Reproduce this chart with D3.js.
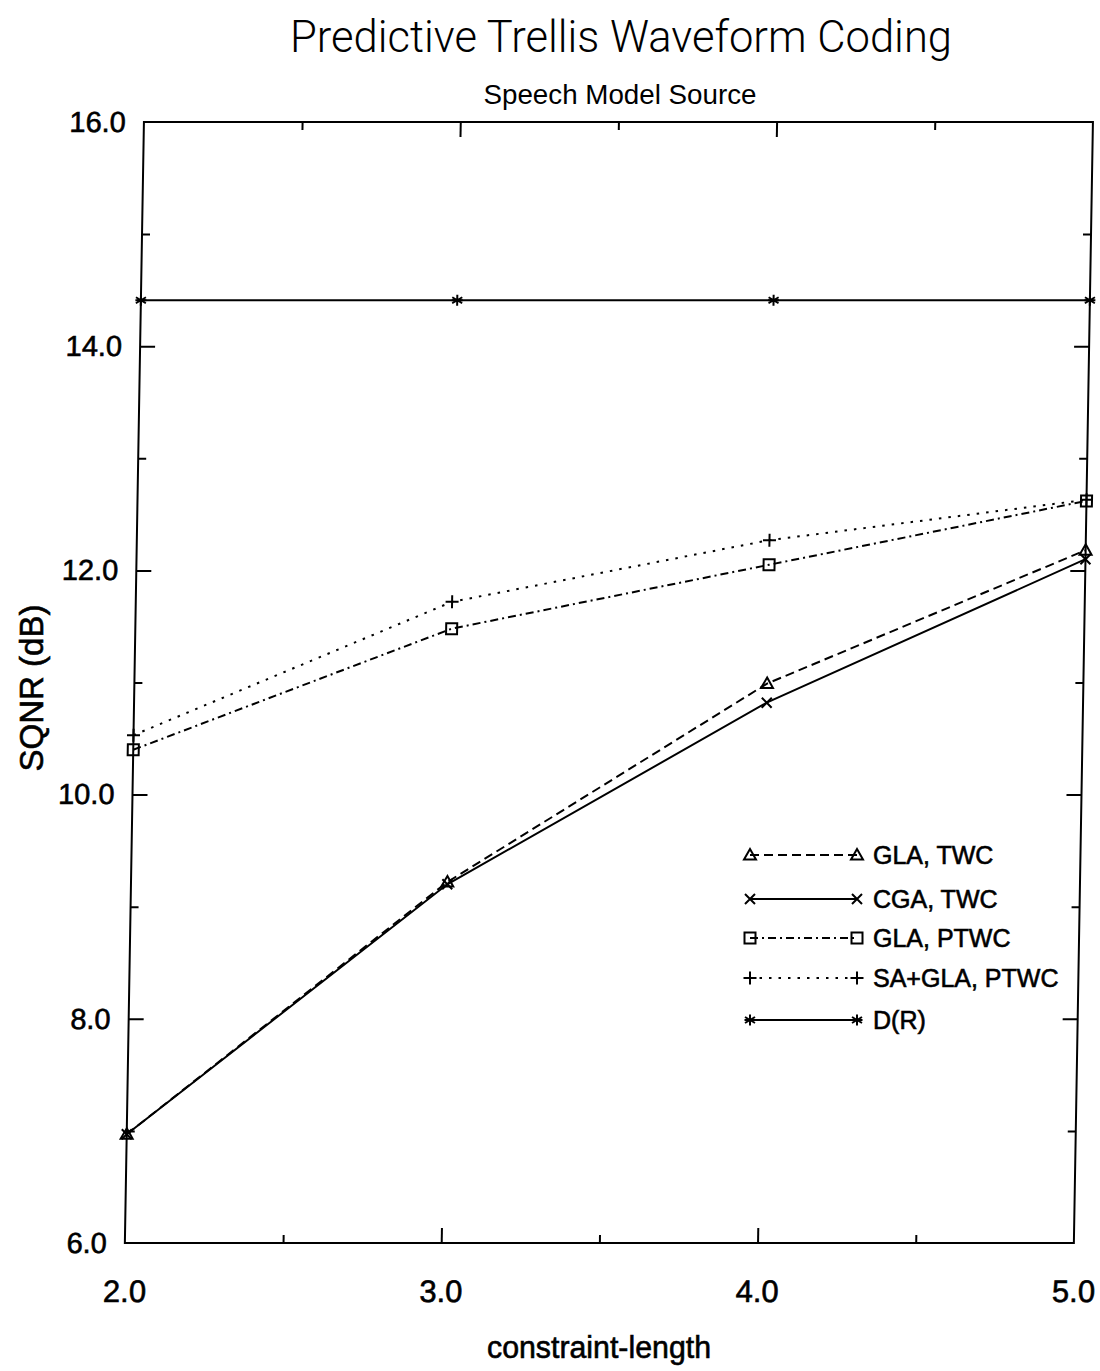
<!DOCTYPE html>
<html>
<head>
<meta charset="utf-8">
<script src="https://cdn.jsdelivr.net/npm/d3@7"></script>
<style>
  body { margin: 0; background: #fff; }
  svg { display: block; font-family: "Liberation Sans", Arial, sans-serif; }
  .heavy { stroke: #000; stroke-width: 0.6; }
</style>
</head>
<body>
<svg id="chart" width="1100" height="1371"></svg>
<script>
'use strict';

// data
var constraintLengths = [2, 3, 4, 5];
var glaTwc = [6.97, 9.22, 10.99, 12.18];
var cgaTwc = [6.97, 9.20, 10.82, 12.10];
var glaPtwc = [10.40, 11.48, 12.05, 12.62];
var saGlaPtwc = [10.53, 11.72, 12.27, 12.63];
var distortionRate = [14.41, 14.41, 14.41, 14.41];

var seriesNames = ['GLA, TWC', 'CGA, TWC', 'GLA, PTWC', 'SA+GLA, PTWC', 'D(R)'];

var xLabelTicks = [2, 3, 4, 5];
var xMajorTicks = [3, 4];
var xMinorTicks = [2.5, 3.5, 4.5];
var yLabelTicks = [6, 8, 10, 12, 14, 16];
var yMajorTicks = [8, 10, 12, 14];
var yMinorTicks = [7, 9, 11, 13, 15];

var LEFT = 146, RIGHT = 1095, TOP = 122, BOTTOM = 1243;
var SKEW = -0.974; // the scan is sheared by about a degree
var MAJOR = 15, MINOR = 8;

var markerPaths = {
    triangle: 'M0,-6L6,4.5L-6,4.5Z',
    times: 'M-5,-5L5,5M-5,5L5,-5',
    square: 'M-5.5,-5.5H5.5V5.5H-5.5Z',
    plus: 'M-6.5,0H6.5M0,-6.5V6.5',
    asterisk: 'M0,-5.5V5.5M-5,-3L5,3M-5,3L5,-3M-5.5,0H5.5'
};

var series = [
    { name: seriesNames[0], values: glaTwc, dash: '9,5', marker: 'triangle' },
    { name: seriesNames[1], values: cgaTwc, dash: null, marker: 'times' },
    { name: seriesNames[2], values: glaPtwc, dash: '8,4,2,4', marker: 'square' },
    { name: seriesNames[3], values: saGlaPtwc, dash: '2.5,7', marker: 'plus' },
    { name: seriesNames[4], values: distortionRate, dash: null, marker: 'asterisk' }
];

var svg = d3.select('#chart');

svg.append('text')
    .attr('x', 621).attr('y', 52)
    .attr('text-anchor', 'middle')
    .attr('font-size', 44)
    .attr('font-family', 'Roboto, "Liberation Sans", sans-serif')
    .attr('font-weight', 300)
    .attr('textLength', 662).attr('lengthAdjust', 'spacingAndGlyphs')
    .text('Predictive Trellis Waveform Coding');

svg.append('text')
    .attr('x', 620).attr('y', 104)
    .attr('text-anchor', 'middle')
    .attr('font-size', 28)
    .attr('textLength', 273).attr('lengthAdjust', 'spacingAndGlyphs')
    .text('Speech Model Source');

svg.append('text')
    .attr('class', 'heavy')
    .attr('transform', 'translate(43,688) rotate(-90)')
    .attr('text-anchor', 'middle')
    .attr('font-size', 33)
    .text('SQNR (dB)');

svg.append('text')
    .attr('class', 'heavy')
    .attr('x', 599).attr('y', 1358)
    .attr('text-anchor', 'middle')
    .attr('font-size', 31)
    .attr('textLength', 224).attr('lengthAdjust', 'spacingAndGlyphs')
    .text('constraint-length');

var x = d3.scaleLinear().domain([2, 5]).range([LEFT, RIGHT]);
var y = d3.scaleLinear().domain([6, 16]).range([BOTTOM, TOP]);

var plot = svg.append('g').attr('transform', 'skewX(' + SKEW + ')');

function tickAxis(axisFn, scale, values, size, at) {
    var g = plot.append('g')
        .attr('transform', at)
        .call(axisFn(scale).tickValues(values).tickSize(size).tickFormat(''));
    g.select('.domain').remove();
    g.selectAll('line').attr('stroke', '#000').attr('stroke-width', 2);
    return g;
}

// inward ticks on all four sides
tickAxis(d3.axisTop, x, xMajorTicks, MAJOR, 'translate(0,' + BOTTOM + ')');
tickAxis(d3.axisTop, x, xMinorTicks, MINOR, 'translate(0,' + BOTTOM + ')');
tickAxis(d3.axisBottom, x, xMajorTicks, MAJOR, 'translate(0,' + TOP + ')');
tickAxis(d3.axisBottom, x, xMinorTicks, MINOR, 'translate(0,' + TOP + ')');
tickAxis(d3.axisRight, y, yMajorTicks, MAJOR, 'translate(' + LEFT + ',0)');
tickAxis(d3.axisRight, y, yMinorTicks, MINOR, 'translate(' + LEFT + ',0)');
tickAxis(d3.axisLeft, y, yMajorTicks, MAJOR, 'translate(' + RIGHT + ',0)');
tickAxis(d3.axisLeft, y, yMinorTicks, MINOR, 'translate(' + RIGHT + ',0)');

var xLabels = plot.append('g')
    .attr('transform', 'translate(0,' + BOTTOM + ')')
    .call(d3.axisBottom(x).tickValues(xLabelTicks).tickSize(0).tickPadding(37).tickFormat(d3.format('.1f')));
xLabels.select('.domain').remove();
xLabels.attr('font-size', 31).attr('font-family', null);
xLabels.selectAll('text').attr('class', 'heavy').attr('fill', '#000');

var yLabels = plot.append('g')
    .attr('transform', 'translate(' + LEFT + ',0)')
    .call(d3.axisLeft(y).tickValues(yLabelTicks).tickSize(0).tickPadding(18).tickFormat(d3.format('.1f')));
yLabels.select('.domain').remove();
yLabels.attr('font-size', 29).attr('font-family', null);
yLabels.selectAll('text').attr('class', 'heavy').attr('fill', '#000');

plot.append('rect')
    .attr('x', x(2)).attr('y', y(16))
    .attr('width', x(5) - x(2)).attr('height', y(6) - y(16))
    .attr('fill', 'none').attr('stroke', '#000').attr('stroke-width', 2);

var line = d3.line()
    .x(function(d) { return x(d[0]); })
    .y(function(d) { return y(d[1]); });

series.forEach(function(s) {
    var pts = constraintLengths.map(function(c, i) { return [c, s.values[i]]; });
    plot.append('path')
        .datum(pts)
        .attr('d', line)
        .attr('fill', 'none')
        .attr('stroke', '#000')
        .attr('stroke-width', 2)
        .attr('stroke-dasharray', s.dash);

    plot.selectAll(null)
        .data(pts)
        .enter().append('path')
        .attr('transform', function(d) { return 'translate(' + x(d[0]) + ',' + y(d[1]) + ')'; })
        .attr('d', markerPaths[s.marker])
        .attr('fill', 'none')
        .attr('stroke', '#000')
        .attr('stroke-width', 2);
});

// legend
var legendRows = [855, 899, 938, 978, 1020];
var legend = svg.append('g');
series.forEach(function(s, i) {
    var ly = legendRows[i];
    legend.append('line')
        .attr('x1', 750).attr('x2', 857)
        .attr('y1', ly).attr('y2', ly)
        .attr('stroke', '#000').attr('stroke-width', 2)
        .attr('stroke-dasharray', s.dash);
    [750, 857].forEach(function(mx) {
        legend.append('path')
            .attr('transform', 'translate(' + mx + ',' + ly + ')')
            .attr('d', markerPaths[s.marker])
            .attr('fill', 'none').attr('stroke', '#000').attr('stroke-width', 2);
    });
    legend.append('text')
        .attr('class', 'heavy')
        .attr('x', 873).attr('y', ly)
        .attr('dy', '0.36em')
        .attr('font-size', 25)
        .text(s.name);
});
</script>
</body>
</html>
